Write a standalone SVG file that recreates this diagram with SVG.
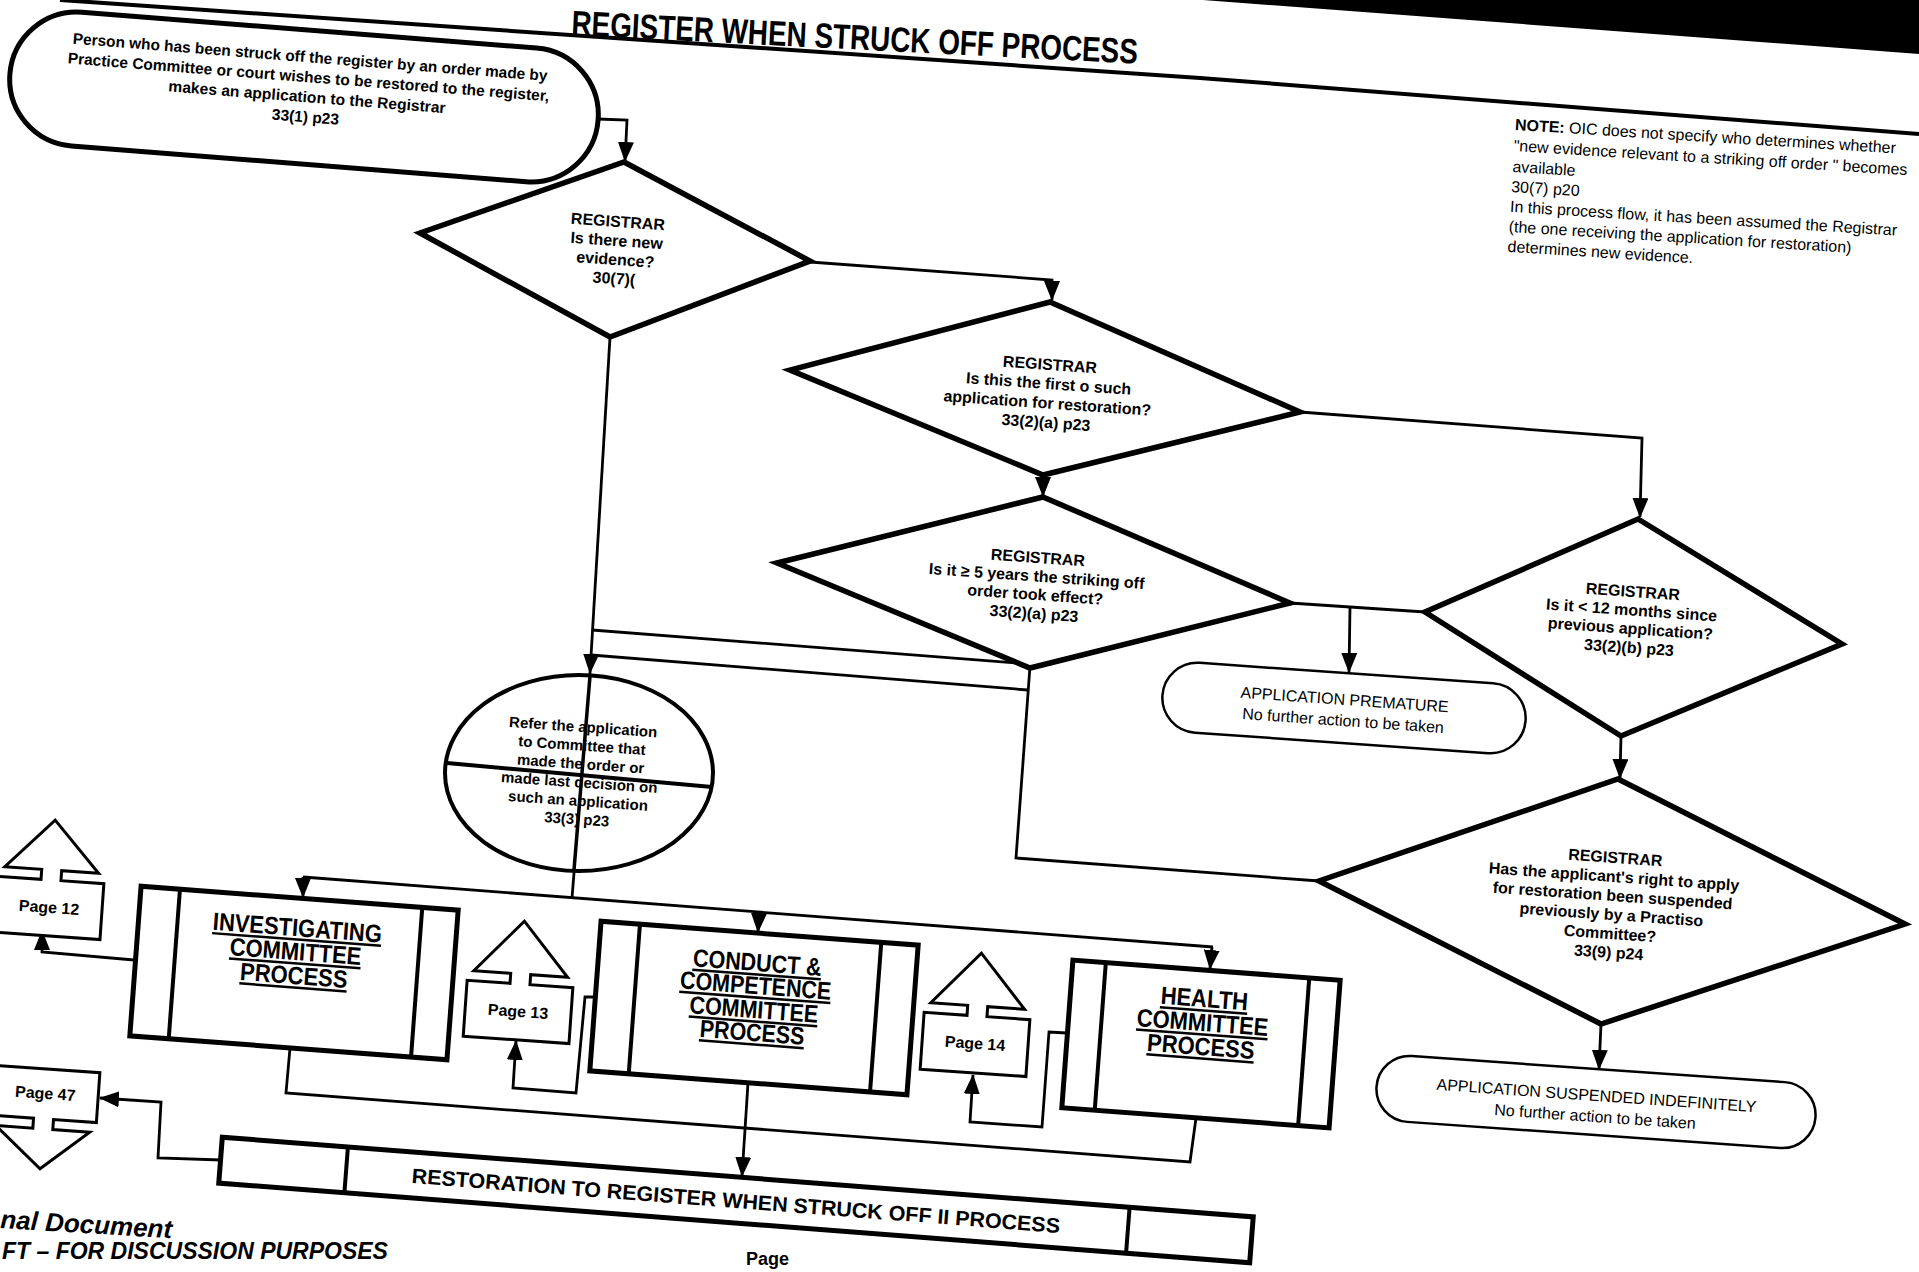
<svg xmlns="http://www.w3.org/2000/svg" width="1919" height="1272" viewBox="0 0 1919 1272">
<defs>
<style>
.t{font-family:"Liberation Sans",Arial,Helvetica,sans-serif;fill:#000}
.b{font-weight:bold}
.c{text-anchor:middle}
.dia{fill:#fff;stroke:#000;stroke-width:5.5;stroke-linejoin:miter}
.box{fill:#fff;stroke:#000;stroke-width:5}
.inn{stroke:#000;stroke-width:4}
.term{fill:#fff;stroke:#000;stroke-width:2.5}
.off{fill:#fff;stroke:#000;stroke-width:3;stroke-linejoin:miter}
.cn{fill:none;stroke:#000;stroke-width:2.8}
.ar{marker-end:url(#ah)}
.ttl{font-size:25px;font-weight:bold;text-decoration:underline}
.dt{font-size:16px;font-weight:bold}
</style>
<marker id="ah" markerUnits="userSpaceOnUse" markerWidth="20" markerHeight="16" refX="19" refY="8" orient="auto" viewBox="0 0 20 16"><path d="M0,0 L20,8 L0,16 z" fill="#000"/></marker>
</defs>
<rect width="1919" height="1272" fill="#fff"/>
<polygon points="1203,0 1919,0 1919,54" fill="#000"/>
<polyline points="60,0 1200,78 1919,134" fill="none" stroke="#000" stroke-width="4"/>
<g id="title"><text class="t b" font-size="35" transform="translate(571,35) rotate(2.9)" textLength="567" lengthAdjust="spacingAndGlyphs">REGISTER WHEN STRUCK OFF PROCESS</text></g>

<g id="note" class="t" font-size="16" transform="translate(1515,125) rotate(3.5)">
<text y="5"><tspan font-weight="bold">NOTE:</tspan> OIC does not specify who determines whether</text>
<text y="26">"new evidence relevant to a striking off order " becomes</text>
<text y="47">available</text>
<text y="67">30(7) p20</text>
<text y="87">In this process flow, it has been assumed the Registrar</text>
<text y="107">(the one receiving the application for restoration)</text>
<text y="127">determines new evidence.</text>
</g>

<g id="connectors">
<polyline class="cn ar" points="598,119 627,120 625,161"/>
<polyline class="cn ar" points="810,262 1052,280 1052,300"/>
<line class="cn ar" x1="610" y1="337" x2="590" y2="673"/>
<line class="cn" x1="590" y1="673" x2="572" y2="898" stroke-width="3.5"/>
<line class="cn" x1="303" y1="877" x2="1213" y2="947"/>
<line class="cn ar" x1="303" y1="877" x2="303" y2="897"/>
<line class="cn ar" x1="759" y1="912" x2="758" y2="932"/>
<line class="cn ar" x1="1212" y1="947" x2="1210" y2="969"/>
<polyline class="cn ar" points="1300,412 1642,438 1640,517"/>
<line class="cn ar" x1="1043" y1="475" x2="1043" y2="496"/>
<line class="cn" x1="1290" y1="603" x2="1425" y2="612"/>
<line class="cn ar" x1="1350" y1="607" x2="1349" y2="672"/>
<line class="cn ar" x1="1621" y1="736" x2="1620" y2="778"/>
<line class="cn ar" x1="1601" y1="1024" x2="1599" y2="1069"/>
<line class="cn" x1="1030" y1="664" x2="592" y2="630"/>
<polyline class="cn" points="1319,881 1016,858 1030,666"/>
<line class="cn" x1="1028" y1="690" x2="591" y2="655"/>
<polyline class="cn" points="290,1048 286,1093 1190,1162 1196,1118"/>
<line class="cn ar" x1="748" y1="1083" x2="742" y2="1176"/>
<polyline class="cn ar" points="134,960 42,952 42,931"/>
<polyline class="cn ar" points="595,997 585,997 576,1093 513,1088 516,1041"/>
<polyline class="cn ar" points="1067,1033 1049,1032 1042,1127 970,1122 973,1075"/>
<polyline class="cn ar" points="221,1160 158,1158 161,1102 100,1098"/>
</g>

<g id="start" transform="translate(304,97) rotate(4.5)">
<rect x="-295" y="-67" width="590" height="134" rx="67" fill="#fff" stroke="#000" stroke-width="5"/>
<g class="t b c" font-size="15.5">
<text x="3" y="-35" textLength="476" lengthAdjust="spacingAndGlyphs">Person who has been struck off the register by an order made by</text>
<text x="3" y="-15" textLength="483" lengthAdjust="spacingAndGlyphs">Practice Committee or court wishes to be restored to the register,</text>
<text x="3" y="5" textLength="278" lengthAdjust="spacingAndGlyphs">makes an application to the Registrar</text>
<text x="3" y="25">33(1) p23</text>
</g>
</g>

<g id="d1"><polygon class="dia" points="624,162 810,261 610,337 420,233"/>
<g class="t c dt" transform="translate(616,250) rotate(4)"><text y="-23">REGISTRAR</text><text y="-4">Is there new</text><text y="15">evidence?</text><text y="34">30(7)(</text></g></g>

<g id="d2"><polygon class="dia" points="1050,302 1300,412 1043,475 790,370"/>
<g class="t c dt" transform="translate(1048,393) rotate(4)"><text y="-23">REGISTRAR</text><text y="-4">Is this the first o such</text><text y="15.5">application for restoration?</text><text y="35">33(2)(a) p23</text></g></g>

<g id="d3"><polygon class="dia" points="1043,497 1290,603 1030,668 777,563"/>
<g class="t c dt" transform="translate(1036,585) rotate(4)"><text y="-22">REGISTRAR</text><text y="-3.5">Is it ≥ 5 years the striking off</text><text y="15">order took effect?</text><text y="34">33(2)(a) p23</text></g></g>

<g id="d4"><polygon class="dia" points="1638,519 1842,644 1621,736 1425,612"/>
<g class="t c dt" transform="translate(1631,619) rotate(4)"><text y="-22">REGISTRAR</text><text y="-3.5">Is it &lt; 12 months since</text><text y="15">previous application?</text><text y="34">33(2)(b) p23</text></g></g>

<g id="d5"><polygon class="dia" points="1618,779 1905,924 1601,1024 1319,881"/>
<g class="t c dt" transform="translate(1612,905) rotate(4)"><text y="-42">REGISTRAR</text><text y="-23">Has the applicant's right to apply</text><text y="-4">for restoration been suspended</text><text y="15">previously by a Practiso</text><text y="34">Committee?</text><text y="53">33(9) p24</text></g></g>

<g id="premature" transform="translate(1344,708) rotate(4)">
<rect class="term" x="-182" y="-35" width="364" height="70" rx="35"/>
<g class="t c" font-size="16"><text y="-3">APPLICATION PREMATURE</text><text y="18">No further action to be taken</text></g>
</g>

<g id="suspended" transform="translate(1596,1102) rotate(4)">
<rect class="term" x="-220" y="-33" width="440" height="66" rx="33"/>
<g class="t c" font-size="16"><text y="-1">APPLICATION SUSPENDED INDEFINITELY</text><text y="20">No further action to be taken</text></g>
</g>

<g id="refer">
<ellipse cx="579" cy="773" rx="134" ry="98" fill="#fff" stroke="#000" stroke-width="4"/>
<g class="t b c" font-size="15" transform="translate(580,773) rotate(4)">
<text y="-41">Refer the application</text><text y="-22.5">to Committee that</text><text y="-4">made the order or</text><text y="14.5">made last decision on</text><text y="33">such an application</text><text y="51.5">33(3) p23</text>
</g>
<line x1="447" y1="763" x2="712" y2="787" stroke="#000" stroke-width="4"/>
<line x1="590" y1="676" x2="574" y2="870" stroke="#000" stroke-width="3.5"/>
</g>

<g id="investigating" transform="translate(294,973) rotate(4.3)">
<rect class="box" x="-159" y="-75" width="318" height="150"/>
<line class="inn" x1="-120" y1="-75" x2="-120" y2="75"/><line class="inn" x1="123" y1="-75" x2="123" y2="75"/>
<g class="t c ttl" transform="scale(0.88,1)"><text y="-37">INVESTIGATING</text><text y="-13">COMMITTEE</text><text y="11">PROCESS</text></g>
</g>

<g id="conduct" transform="translate(754,1008) rotate(4.3)">
<rect class="box" x="-159" y="-75" width="318" height="150"/>
<line class="inn" x1="-120" y1="-75" x2="-120" y2="75"/><line class="inn" x1="122" y1="-75" x2="122" y2="75"/>
<g class="t c ttl" transform="scale(0.86,1)"><text y="-37">CONDUCT &amp;</text><text y="-14">COMPETENCE</text><text y="10">COMMITTEE</text><text y="33">PROCESS</text></g>
</g>

<g id="health" transform="translate(1201,1044) rotate(4.3)">
<rect class="box" x="-134" y="-74" width="268" height="148"/>
<line class="inn" x1="-101" y1="-74" x2="-101" y2="74"/><line class="inn" x1="103" y1="-74" x2="103" y2="74"/>
<g class="t c ttl" transform="scale(0.88,1)"><text y="-37">HEALTH</text><text y="-13">COMMITTEE</text><text y="11">PROCESS</text></g>
</g>

<g id="page12" transform="translate(51,880) rotate(4)">
<path class="off" d="M-53,56 L53,56 L53,0 L10,0 L10,-10 L47,-10 L0,-60 L-47,-10 L-10,-10 L-10,0 L-53,0 Z"/>
<text class="t b c" font-size="16" y="33">Page 12</text>
</g>
<g id="page13" transform="translate(520,984) rotate(4)">
<path class="off" d="M-53,56 L53,56 L53,0 L10,0 L10,-10 L47,-10 L0,-63 L-47,-10 L-10,-10 L-10,0 L-53,0 Z"/>
<text class="t b c" font-size="16" y="33">Page 13</text>
</g>
<g id="page14" transform="translate(977,1016) rotate(4)">
<path class="off" d="M-53,57 L53,57 L53,0 L10,0 L10,-10 L47,-10 L0,-63 L-47,-10 L-10,-10 L-10,0 L-53,0 Z"/>
<text class="t b c" font-size="16" y="33">Page 14</text>
</g>
<g id="page47" transform="translate(47,1069) rotate(4)">
<path class="off" d="M-53,0 L53,0 L53,50 L10,50 L10,60 L47,60 L0,100 L-47,60 L-10,60 L-10,50 L-53,50 Z"/>
<text class="t b c" font-size="16" y="30">Page 47</text>
</g>

<g id="restoration" transform="translate(736,1200) rotate(4.42)">
<rect class="box" x="-517" y="-23" width="1034" height="46"/>
<line class="inn" x1="-391" y1="-23" x2="-391" y2="23"/><line class="inn" x1="393" y1="-23" x2="393" y2="23"/>
<text class="t b c" font-size="21" y="8" textLength="650" lengthAdjust="spacingAndGlyphs">RESTORATION TO REGISTER WHEN STRUCK OFF II PROCESS</text>
</g>

<g id="footer" class="t b" font-style="italic">
<text font-size="26" transform="translate(0,1228) rotate(3.4)">nal Document</text>
<text font-size="23" x="2" y="1259">FT – FOR DISCUSSION PURPOSES</text>
<text font-size="18" font-style="normal" x="746" y="1265">Page</text>
</g>
</svg>
